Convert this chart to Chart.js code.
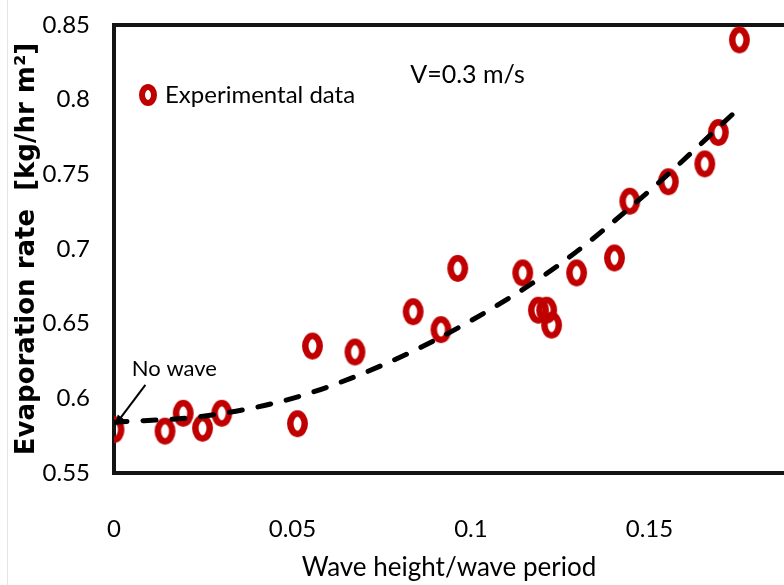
<!DOCTYPE html>
<html>
<head>
<meta charset="utf-8">
<script src="https://cdn.jsdelivr.net/npm/chart.js@4.4.0/dist/chart.umd.min.js"></script>
<style>
  html, body { margin: 0; padding: 0; background: #fff; }
  #wrap { position: relative; width: 784px; height: 585px; }
  #edge { position: absolute; left: 7px; top: 0; width: 1px; height: 585px; background: #e4e4e4; }
</style>
</head>
<body>
<div id="wrap">
  <canvas id="chart" width="784" height="585"></canvas>
  <div id="edge"></div>
</div>
<script>
// measured points (wave height / wave period vs evaporation rate)
const xData = [0, 0.0143, 0.0194, 0.0248, 0.0302, 0.0514, 0.0556, 0.0675, 0.0838, 0.0916, 0.0963,
               0.1145, 0.1189, 0.1212, 0.1226, 0.1296, 0.1402, 0.1445, 0.1553, 0.1655, 0.1693, 0.1752];
const yData = [0.579, 0.578, 0.590, 0.580, 0.590, 0.583, 0.635, 0.631, 0.658, 0.646, 0.687,
               0.684, 0.659, 0.659, 0.649, 0.684, 0.694, 0.732, 0.745, 0.757, 0.778, 0.840];

// dashed trend line
const trendX = [0, 0.025, 0.05, 0.075, 0.1, 0.125, 0.15, 0.175];
const trendY = [0.584, 0.588, 0.600, 0.622, 0.652, 0.690, 0.739, 0.794];

const xTicks = [0, 0.05, 0.1, 0.15];
const yTicks = [0.55, 0.6, 0.65, 0.7, 0.75, 0.8, 0.85];

const speedLabel = "V=0.3 m/s";
const speedAt = [0.083, 0.8165];
const noWaveLabel = "No wave";
const noWaveAt = [0.005, 0.6196];
const arrowFrom = [0.0088, 0.609];
const arrowTo = [0.0003, 0.582];

const RED = "#c00000";
const FRAME = "#141414";

function ringMark(rx, ry, lw) {
  const c = document.createElement("canvas");
  c.width = Math.ceil(2 * rx + lw + 2);
  c.height = Math.ceil(2 * ry + lw + 2);
  const g = c.getContext("2d");
  g.strokeStyle = RED;
  g.lineWidth = lw;
  g.beginPath();
  g.ellipse(c.width / 2, c.height / 2, rx, ry, 0, 0, Math.PI * 2);
  g.stroke();
  return c;
}

const dataMark = ringMark(7.2, 10.2, 6.5);
const legendMark = ringMark(6, 8, 6);

const notes = {
  id: "notes",
  afterDatasetsDraw(chart) {
    const { ctx } = chart;
    const x = chart.scales.x, y = chart.scales.y;
    ctx.save();
    ctx.fillStyle = "#000";
    ctx.strokeStyle = "#000";
    ctx.textBaseline = "middle";
    ctx.textAlign = "left";
    ctx.font = "25px Lato";
    ctx.fillText(speedLabel, x.getPixelForValue(speedAt[0]), y.getPixelForValue(speedAt[1]));
    ctx.font = "22px Lato";
    ctx.fillText(noWaveLabel, x.getPixelForValue(noWaveAt[0]), y.getPixelForValue(noWaveAt[1]));

    const x0 = x.getPixelForValue(arrowFrom[0]), y0 = y.getPixelForValue(arrowFrom[1]);
    const x1 = x.getPixelForValue(arrowTo[0]), y1 = y.getPixelForValue(arrowTo[1]);
    const a = Math.atan2(y1 - y0, x1 - x0);
    ctx.lineWidth = 2;
    ctx.beginPath();
    ctx.moveTo(x0, y0);
    ctx.lineTo(x1 - 6 * Math.cos(a), y1 - 6 * Math.sin(a));
    ctx.stroke();
    ctx.beginPath();
    ctx.moveTo(x1, y1);
    ctx.lineTo(x1 - 11 * Math.cos(a - 0.4), y1 - 11 * Math.sin(a - 0.4));
    ctx.lineTo(x1 - 11 * Math.cos(a + 0.4), y1 - 11 * Math.sin(a + 0.4));
    ctx.closePath();
    ctx.fill();
    ctx.restore();
  }
};

Chart.defaults.font.family = "Lato";
Chart.defaults.color = "#000";

const axisLine = { display: true, color: FRAME, width: 4 };
const noPad = s => { s.paddingLeft = 0; s.paddingRight = 0; s.paddingTop = 0; s.paddingBottom = 0; };

new Chart(document.getElementById("chart"), {
  type: "scatter",
  data: {
    datasets: [
      {
        type: "line",
        label: "trend",
        data: trendX.map((v, i) => ({ x: v, y: trendY[i] })),
        borderColor: "#000",
        borderWidth: 5,
        borderDash: [13, 16],
        borderCapStyle: "round",
        pointRadius: 0,
        cubicInterpolationMode: "monotone",
        fill: false,
      },
      {
        label: "Experimental data",
        data: xData.map((v, i) => ({ x: v, y: yData[i] })),
        pointStyle: dataMark,
        pointRadius: 10,
        showLine: false,
      },
    ],
  },
  options: {
    responsive: false,
    devicePixelRatio: 1,
    animation: false,
    events: [],
    layout: { autoPadding: false, padding: { left: 0, top: 25, right: 0, bottom: 0 } },
    plugins: {
      tooltip: { enabled: false },
      legend: {
        position: "chartArea",
        align: "start",
        fullSize: false,
        labels: {
          usePointStyle: true,
          pointStyle: legendMark,
          pointStyleWidth: 10,
          padding: 29,
          color: "#000",
          font: { size: 24 },
          filter: item => item.datasetIndex === 1,
        },
        // empty title only pushes the entry down
        title: { display: true, text: "", padding: 0, font: { size: 10, lineHeight: "54px" } },
      },
    },
    scales: {
      x: {
        type: "linear",
        position: "bottom",
        min: 0,
        max: 0.1877,
        afterBuildTicks: s => { s.ticks = xTicks.map(v => ({ value: v })); },
        afterFit: s => { s.height = 112; noPad(s); },
        grid: { display: false, drawTicks: false },
        border: axisLine,
        ticks: { padding: 42, font: { size: 24 }, callback: v => String(v) },
        title: {
          display: true,
          text: "Wave height/wave period",
          font: { size: 26 },
          padding: { top: 0, bottom: 2 },
        },
      },
      x2: {
        type: "linear",
        position: "top",
        min: 0,
        max: 0.1877,
        afterFit: s => { s.height = 0; noPad(s); },
        grid: { display: false, drawTicks: false },
        border: axisLine,
        ticks: { display: false },
      },
      y: {
        type: "linear",
        min: 0.55,
        max: 0.85,
        afterBuildTicks: s => { s.ticks = yTicks.map(v => ({ value: v })); },
        afterFit: s => { s.width = 114; noPad(s); },
        grid: { display: false, drawTicks: false },
        border: axisLine,
        ticks: { padding: 24, font: { size: 24 }, callback: v => String(v) },
        title: {
          display: true,
          text: "Evaporation rate  [kg/hr m²]",
          font: { family: "DejaVu Sans", weight: "bold", size: 26 },
          padding: { top: 12, bottom: 0 },
        },
      },
    },
  },
  plugins: [notes],
});
</script>
</body>
</html>
